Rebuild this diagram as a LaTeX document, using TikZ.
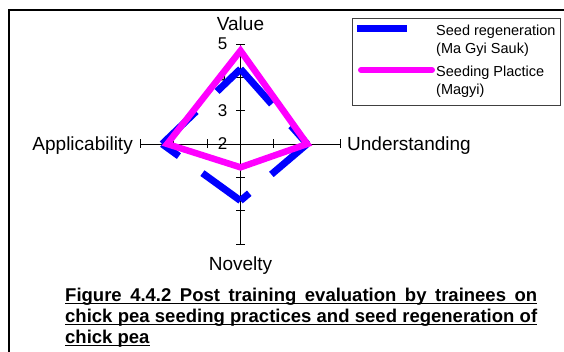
\documentclass[tikz,border=0pt]{standalone}
\usepackage{fontspec}
\setmainfont{Liberation Sans}
\definecolor{serblue}{RGB}{0,0,255}
\definecolor{sermag}{RGB}{255,0,255}

\tikzset{
  frameline/.style={line width=1.2pt, black},
  axisline/.style={line width=0.9pt, black},
  axlabel/.style={font=\fontsize{19}{22}\selectfont, inner sep=0pt},
  ticklabel/.style={font=\fontsize{17}{20}\selectfont, inner sep=0pt, anchor=east},
  legtext/.style={font=\fontsize{14.5}{17}\selectfont, inner sep=0pt, anchor=base west},
  capline/.style={font=\bfseries\fontsize{18.5}{22}\selectfont, inner sep=0pt, anchor=base west},
  regen/.style={serblue, line width=7pt, dash pattern=on 47pt off 29pt},
  practice/.style={sermag, line width=6.5pt, line join=miter},
}

% radar geometry: centre and length of one scale unit (scale runs 2..5)
\def\cx{240.5}
\def\cy{144}
\def\un{33.33}

\begin{document}
\begin{tikzpicture}[x=1pt,y=-1pt]
\useasboundingbox (0,0) rectangle (564,352);

% outer frame (open to the right and bottom)
\draw[frameline] (9,352) -- (9,10) -- (564,10);

% axes
\coordinate (c) at (\cx,\cy);
\coordinate (topend) at (\cx,{\cy-3*\un});
\coordinate (botend) at (\cx,{\cy+3*\un});
\coordinate (leftend) at ({\cx-3*\un},\cy);
\coordinate (rightend) at ({\cx+3*\un},\cy);
\draw[axisline] (topend) -- (botend);
\draw[axisline] (leftend) -- (rightend);
\foreach \k in {1,2,3} {
  \draw[axisline] ({\cx-4.5},{\cy-\k*\un}) -- ({\cx+4.5},{\cy-\k*\un});
  \draw[axisline] ({\cx-4.5},{\cy+\k*\un}) -- ({\cx+4.5},{\cy+\k*\un});
  \draw[axisline] ({\cx-\k*\un},{\cy-4.5}) -- ({\cx-\k*\un},{\cy+4.5});
  \draw[axisline] ({\cx+\k*\un},{\cy-4.5}) -- ({\cx+\k*\un},{\cy+4.5});
}

% scale labels on the Value axis
\node[ticklabel] (t2) at (227.5,\cy) {2};
\node[ticklabel] (t3) at (227.5,{\cy-\un}) {3};
\node[ticklabel] (t4) at (227.5,{\cy-2*\un}) {4};
\node[ticklabel] (t5) at (227.5,{\cy-3*\un}) {5};

% axis names
\node[axlabel, anchor=base] (lval) at (\cx,30.5) {Value};
\node[axlabel, anchor=base east] (lapp) at (133,151) {Applicability};
\node[axlabel, anchor=base west] (lund) at (347,151) {Understanding};
\node[axlabel, anchor=base] (lnov) at (\cx,270.5) {Novelty};

% Seed regeneration (Ma Gyi Sauk)
\coordinate (bV) at (\cx,{\cy-(4.25-2)*\un});
\coordinate (bU) at ({\cx+(4.0-2)*\un},\cy);
\coordinate (bN) at (\cx,{\cy+(3.7-2)*\un});
\coordinate (bA) at ({\cx-(4.35-2)*\un},\cy);
\draw[regen] (bV) -- (bU);
\draw[regen] (bU) -- (bN);
\draw[regen] (bN) -- (bA);
\draw[regen] (bA) -- (bV);

% Seeding Plactice (Magyi)
\coordinate (mV) at (\cx,{\cy-(4.8-2)*\un});
\coordinate (mU) at ({\cx+(4.0-2)*\un},\cy);
\coordinate (mN) at (\cx,{\cy+(2.7-2)*\un});
\coordinate (mA) at ({\cx-(4.2-2)*\un},\cy);
\draw[practice] (mV) -- (mU) -- (mN) -- (mA) -- cycle;

% legend
\draw[line width=0.8pt, black!75] (352,18) rectangle (560,105);
\fill[serblue] (357,25) rectangle (407,32);
\coordinate (k2a) at (361,70);
\coordinate (k2b) at (432,70);
\draw[sermag, line width=6pt, line cap=round] (k2a) -- (k2b);
\node[legtext] (leg1) at (436,35.5) {Seed regeneration};
\node[legtext] (leg2) at (436,53.5) {(Ma Gyi Sauk)};
\node[legtext] (leg3) at (436,77) {Seeding Plactice};
\node[legtext] (leg4) at (436,95) {(Magyi)};

% caption
\node[capline] (cap1) at (65,301) {\hbox to 472pt{Figure\hfill 4.4.2\hfill Post\hfill training\hfill evaluation\hfill by\hfill trainees\hfill on}};
\node[capline] (cap2) at (65,322) {\hbox to 472pt{chick\hfill pea\hfill seeding\hfill practices\hfill and\hfill seed\hfill regeneration\hfill of}};
\node[capline] (cap3) at (65,343) {chick pea};
\foreach \n in {cap1,cap2,cap3}
  \draw[line width=1.4pt] ([yshift=-2.6pt]\n.base west) -- ([yshift=-2.6pt]\n.base east);
\end{tikzpicture}
\end{document}
